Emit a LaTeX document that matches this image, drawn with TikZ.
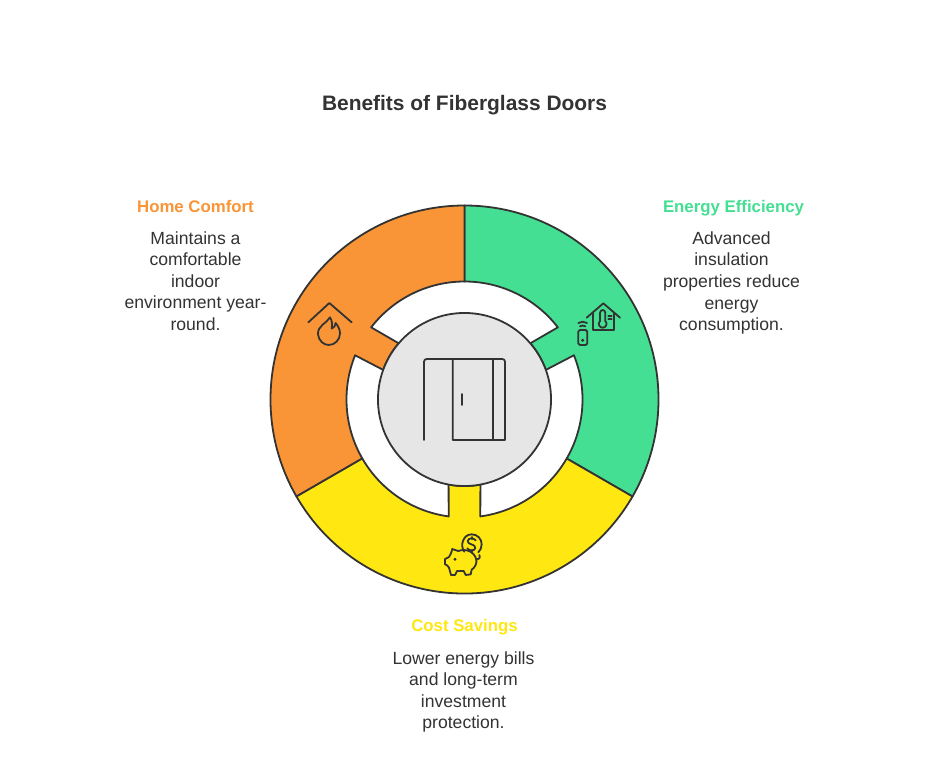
\documentclass[tikz,border=0pt]{standalone}
\usepackage{fontspec}
\setmainfont{Liberation Sans}
\definecolor{ink}{HTML}{333333}
\definecolor{orangeseg}{HTML}{F99537}
\definecolor{greenseg}{HTML}{44DF92}
\definecolor{yellowseg}{HTML}{FFE711}
\definecolor{hubgrey}{HTML}{E6E6E6}
\tikzset{
  seg/.style={draw=ink,line width=1.35pt,line join=round},
  icon/.style={draw=ink,line width=1.35pt,line cap=round,line join=round},
  head/.style={font=\fontsize{12.6pt}{16.2pt}\selectfont\bfseries,align=center},
  body/.style={font=\fontsize{13.2pt}{16.2pt}\selectfont,text=ink,align=center},
}
\def\Ro{145.5pt}
\def\Ri{88.5pt}
\def\Rc{64.9pt}
\begin{document}
\begin{tikzpicture}[x=.75pt,y=-.75pt]
\useasboundingbox (0,0) rectangle (938,781);
\fill[white] (0,0) rectangle (938,781);
\node[font=\fontsize{15.7pt}{18pt}\selectfont\bfseries,text=ink] (title) at (464.5,105) {Benefits of Fiberglass Doors};
\begin{scope}[shift={(464.5,399.5)},x=.75pt,y=.75pt]
% green
\path[seg,fill=greenseg] (90:\Ro) arc[start angle=90,end angle=-30,radius=\Ro]
  -- (-30:\Ri) arc[start angle=-30,end angle=22,radius=\Ri]
  -- (20:\Rc) arc[start angle=20,end angle=40.5,radius=\Rc]
  -- (37.7:\Ri) arc[start angle=37.7,end angle=90,radius=\Ri] -- cycle;
% orange
\path[seg,fill=orangeseg] (90:\Ro) arc[start angle=90,end angle=210,radius=\Ro]
  -- (210:\Ri) arc[start angle=210,end angle=158,radius=\Ri]
  -- (160:\Rc) arc[start angle=160,end angle=139.5,radius=\Rc]
  -- (142.3:\Ri) arc[start angle=142.3,end angle=90,radius=\Ri] -- cycle;
% yellow
\path[seg,fill=yellowseg] (210:\Ro) arc[start angle=210,end angle=330,radius=\Ro]
  -- (330:\Ri) arc[start angle=330,end angle=277.7,radius=\Ri]
  -- (280.6:\Rc) arc[start angle=280.6,end angle=259.4,radius=\Rc]
  -- (262.3:\Ri) arc[start angle=262.3,end angle=210,radius=\Ri] -- cycle;
\path[seg,fill=hubgrey] (0,0) circle[radius=\Rc];
\end{scope}
% door icon
\begin{scope}[shift={(410,345)},x=.25pt,y=-.25pt]
\draw[icon] (42,285) -- (42,50) to[out=90,in=180] (50,42) -- (277,42) to[out=0,in=90] (285,50) -- (285,285) -- (128,285) -- (128,42);
\draw[icon] (248,42) -- (248,285);
\draw[icon] (157,147) -- (157,180);
\end{scope}
% flame house icon
\begin{scope}[shift={(300,295)},x=.25pt,y=-.25pt]
\draw[icon] (25,82) -- (88,24) -- (155,82);
\draw[icon] (90,67) .. controls (80,85) and (52,92) .. (54,118) .. controls (56,138) and (72,150) .. (86,150) .. controls (104,150) and (120,135) .. (120,115) .. controls (120,102) and (113,92) .. (107,84) .. controls (106,92) and (103,98) .. (95,101) .. controls (97,90) and (97,78) .. (90,67) -- cycle;
\end{scope}
% smart home icon
\begin{scope}[shift={(570,295)},x=.25pt,y=-.25pt]
\draw[icon] (50,68) -- (100,25) -- (150,68);
\draw[icon] (68,55) -- (68,105) -- (132,105) -- (132,55);
\draw[icon] (90,78) -- (90,54) .. controls (90,42) and (106,42) .. (106,54) -- (106,78);
\draw[icon] (90,78) .. controls (82,86) and (88,98) .. (98,98) .. controls (108,98) and (114,86) .. (106,78);
\draw[icon] (115,62) -- (125,62) (115,72) -- (125,72);
\draw[icon,rounded corners=1.2pt] (25,105) rectangle (52,150);
\fill[ink] (38,136) circle[radius=1.3pt];
\draw[icon] (30,94) to[bend left=30] (46,94);
\draw[icon] (25,84) to[bend left=30] (51,84);
\end{scope}
% piggy icon
\begin{scope}[shift={(435,525)},x=.25pt,y=-.25pt]
\draw[icon] (88,80) .. controls (74,62) and (84,28) .. (110,28) .. controls (128,28) and (140,42) .. (140,58) .. controls (140,68) and (136,76) .. (130,82);
\draw[icon] (122,46) .. controls (116,38) and (100,38) .. (98,48) .. controls (97,60) and (122,56) .. (121,69) .. controls (119,79) and (102,78) .. (97,70);
\draw[icon] (110,36) -- (110,42) (110,76) -- (110,82);
\draw[icon] (52,72) -- (70,78) .. controls (90,70) and (118,78) .. (124,104) .. controls (126,115) and (120,128) .. (110,134) -- (107,148) -- (92,150) -- (86,138) -- (66,138) -- (60,150) -- (48,150) -- (42,128) .. controls (38,122) and (36,120) .. (30,118) -- (30,102) -- (42,96) .. controls (46,90) and (48,86) .. (52,72) -- cycle;
\draw[icon] (124,104) .. controls (132,104) and (137,98) .. (133,90);
\fill[ink] (60,103) circle[radius=1.2pt];
\end{scope}
% labels
\node[head,text=orangeseg] (hc) at (195.5,206) {Home Comfort};
\node[body] (hcb) at (195.5,281) {Maintains a\\comfortable\\indoor\\environment year-\\round.};
\node[head,text=greenseg] (ee) at (733.5,208) {Energy Efficiency};
\node[body] (eeb) at (731.5,283) {Advanced\\insulation\\properties reduce\\energy\\consumption.};
\node[head,text=yellowseg] (cs) at (464.5,627.5) {Cost Savings};
\node[body] (csb) at (463.5,692) {Lower energy bills\\and long-term\\investment\\protection.};
\end{tikzpicture}
\end{document}
